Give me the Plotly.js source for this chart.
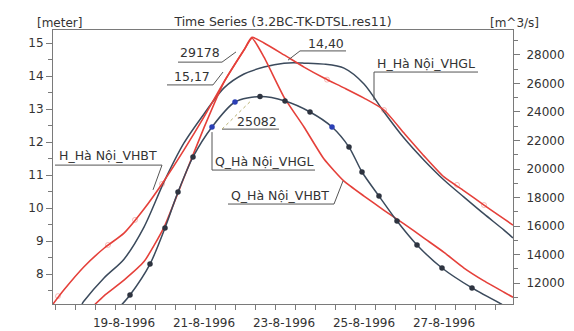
<!DOCTYPE html>
<html>
<head>
<meta charset="utf-8">
<script src="https://cdn.plot.ly/plotly-3.0.1.min.js"></script>
<style>html,body{margin:0;padding:0;background:#fff;}#chart{width:574px;height:331px;}</style>
</head>
<body>
<div id="chart"></div>
<script>
// ---- Data (x = day of August 1996, fractional) ----
const tickDays = [19, 21, 23, 25, 27];
const tickLabels = ["19-8-1996", "21-8-1996", "23-8-1996", "25-8-1996", "27-8-1996"];

// H_Hà Nội_VHBT [meter]
const hbtDay = [17.225,17.5,18,18.5,19,19.5,20,20.5,21,21.5,22,22.2,22.5,23,23.5,24,24.5,25,25.5,26,26.5,27,27.5,28,28.5,28.725];
const hbtH   = [7.09,7.52,8.22,8.78,9.24,9.97,10.82,11.76,12.76,13.82,14.79,15.17,15.0,14.64,14.27,13.94,13.64,13.33,12.97,12.27,11.58,10.94,10.52,10.09,9.67,9.48];
const hbtMarkDay = [17.35,18.6,19.275,19.95,24.075,25.5,27.325,28.0];
const hbtMarkH   = [7.33,8.88,9.64,10.73,13.89,12.97,10.70,10.09];

// H_Hà Nội_VHGL [meter]
const hglDay = [17.95,18,18.5,19,19.5,20,20.5,21,21.5,22,22.5,23,23.25,23.5,24,24.5,25,25.5,26,26.5,27,27.5,28,28.5,28.725];
const hglH   = [7.09,7.18,7.88,8.45,9.42,10.79,11.97,12.85,13.64,14.06,14.27,14.39,14.40,14.39,14.36,14.24,13.76,12.91,12.12,11.45,10.85,10.33,9.82,9.33,9.09];

// Q_Hà Nội_VHBT [m^3/s]
const qbtDay = [18.275,18.5,19,19.5,20,20.5,21,21.5,22,22.2,22.5,23,23.5,24,24.5,25,25.5,26,26.5,27,27.5,28,28.5,28.725];
const qbtQ   = [10500,11100,12200,13500,15900,19400,22900,26100,28350,29178,27850,25050,22950,20700,19150,18100,17100,16150,15150,14150,13050,12150,11350,11000];

// Q_Hà Nội_VHGL [m^3/s]
const qglDay = [18.95,19.15,19.65,20.025,20.35,20.725,21.2,21.775,22.4,23.025,23.65,24.2,24.625,24.95,25.375,25.825,26.325,26.95,27.7,28.45];
const qglQ   = [10500,11160,13330,15860,18380,20840,22950,24700,25082,24770,24000,22950,21540,19790,18100,16350,14670,13050,11650,10500];
const qglMarkDay = [19.15,19.65,20.025,20.35,20.725,22.4,23.025,23.65,24.625,24.95,25.375,25.825,26.325,26.95,27.7];
const qglMarkQ   = [11160,13330,15860,18380,20840,25082,24770,24000,21540,19790,18100,16350,14670,13050,11650];
const qglBlueDay = [21.2,21.775,24.2];
const qglBlueQ   = [22950,24700,22950];

// ---- Styling ----
const RED = '#e5403a';
const DARK = '#3b4a5c';
const FONT = 'DejaVu Sans, sans-serif';
const TXT = '#333333';
const AX = '#7a7a7a';

const traces = [
  {x: hglDay, y: hglH, yaxis: 'y', mode: 'lines', line: {color: DARK, width: 1.5, shape: 'spline', smoothing: 0.8}, name: 'H_Hà Nội_VHGL'},
  {x: hbtDay, y: hbtH, yaxis: 'y', mode: 'lines', line: {color: RED, width: 1.6, shape: 'spline', smoothing: 0.6}, name: 'H_Hà Nội_VHBT'},
  {x: hbtMarkDay, y: hbtMarkH, yaxis: 'y', mode: 'markers', marker: {symbol: 'circle-open', size: 5, color: 'rgba(229,64,58,0.35)', line: {width: 1}}},
  {x: qbtDay, y: qbtQ, yaxis: 'y2', mode: 'lines', line: {color: RED, width: 1.6, shape: 'spline', smoothing: 0.5}, name: 'Q_Hà Nội_VHBT'},
  {x: qglDay, y: qglQ, yaxis: 'y2', mode: 'lines', line: {color: DARK, width: 1.5, shape: 'spline', smoothing: 0.8}, name: 'Q_Hà Nội_VHGL'},
  {x: qglMarkDay, y: qglMarkQ, yaxis: 'y2', mode: 'markers', marker: {symbol: 'circle', size: 5.5, color: '#2e3440'}},
  {x: qglBlueDay, y: qglBlueQ, yaxis: 'y2', mode: 'markers', marker: {symbol: 'circle', size: 5.5, color: '#2b3fb5'}}
];

function lbl(text, x, y) {
  return {text: text, x: x, y: y, xref: 'x', yref: 'y', showarrow: false,
          font: {family: FONT, size: 12.5, color: TXT}, xanchor: 'center', yanchor: 'middle'};
}
function seg(x0, y0, x1, y1, color, dash) {
  return {type: 'line', xref: 'x', yref: 'y', x0: x0, y0: y0, x1: x1, y1: y1,
          line: {color: color || '#555', width: 1, dash: dash || 'solid'}};
}

const annotations = [
  {text: '[meter]', xref: 'paper', yref: 'paper', x: -0.04, y: 1.06, showarrow: false, font: {family: FONT, size: 12, color: TXT}},
  {text: '[m^3/s]', xref: 'paper', yref: 'paper', x: 1.06, y: 1.06, showarrow: false, font: {family: FONT, size: 12, color: TXT}},
  lbl('29178', 20.9, 14.70),
  lbl('15,17', 20.7, 13.97),
  lbl('14,40', 24.05, 14.97),
  lbl('25082', 22.33, 12.61),
  lbl('H_Hà Nội_VHBT', 18.6, 11.58),
  lbl('Q_Hà Nội_VHGL', 22.5, 11.40),
  lbl('Q_Hà Nội_VHBT', 22.9, 10.37),
  lbl('H_Hà Nội_VHGL', 26.55, 14.37)
];

const shapes = [
  seg(20.35, 14.42, 21.45, 14.42), seg(21.45, 14.42, 21.8, 14.73),
  seg(20.075, 13.73, 21.225, 13.73), seg(21.225, 13.73, 21.475, 14.12),
  seg(23.4, 14.76, 24.55, 14.76), seg(23.4, 14.76, 23.1, 14.48),
  seg(21.45, 12.39, 22.875, 12.39), seg(21.45, 12.39, 22.15, 13.22, '#b8b070', 'dot'),
  seg(17.275, 11.30, 19.95, 11.30), seg(19.95, 11.30, 19.725, 10.55),
  seg(21.2, 11.15, 23.775, 11.15), seg(21.2, 11.15, 21.2, 12.30),
  seg(21.6, 10.12, 24.25, 10.12), seg(24.25, 10.12, 24.475, 10.82),
  seg(25.25, 14.12, 27.85, 14.12), seg(25.25, 14.12, 25.25, 13.27)
];

const layout = {
  width: 574, height: 331,
  margin: {l: 53, r: 61, t: 30, b: 27, pad: 0},
  paper_bgcolor: '#ffffff', plot_bgcolor: '#ffffff',
  showlegend: false,
  font: {family: FONT, size: 12, color: TXT},
  title: {text: 'Time Series (3.2BC-TK-DTSL.res11)', font: {family: FONT, size: 12.5, color: TXT},
          xref: 'container', yref: 'container', x: 0.493, y: 0.935, xanchor: 'center', yanchor: 'middle'},
  xaxis: {
    range: [17.225, 28.725], tickmode: 'array', tickvals: tickDays, ticktext: tickLabels,
    ticks: 'outside', ticklen: 0, ticklabelstandoff: 8, showgrid: false, zeroline: false,
    showline: true, mirror: true, linecolor: AX, linewidth: 1,
    tickfont: {family: FONT, size: 12, color: TXT},
    minor: {ticks: 'outside', tick0: 17.775, dtick: 0.5, ticklen: 5, tickcolor: AX, showgrid: false}
  },
  yaxis: {
    range: [7.091, 15.394], tickmode: 'linear', tick0: 0, dtick: 1,
    ticks: 'outside', ticklen: 6, tickcolor: AX, showgrid: false, zeroline: false,
    showline: true, linecolor: AX, linewidth: 1,
    tickfont: {family: FONT, size: 12, color: TXT},
    minor: {ticks: 'outside', dtick: 0.5, ticklen: 4, tickcolor: AX, showgrid: false}
  },
  yaxis2: {
    range: [10526, 29754], overlaying: 'y', side: 'right', anchor: 'x',
    tickmode: 'linear', tick0: 0, dtick: 2000, tickformat: 'd',
    ticks: 'outside', ticklen: 6, tickcolor: AX, showgrid: false, zeroline: false,
    showline: true, linecolor: AX, linewidth: 1, ticklabelstandoff: 4,
    tickfont: {family: FONT, size: 12, color: TXT},
    minor: {ticks: 'outside', dtick: 1000, ticklen: 4, tickcolor: AX, showgrid: false}
  },
  annotations: annotations,
  shapes: shapes
};

Plotly.newPlot('chart', traces, layout, {staticPlot: true, displayModeBar: false});
</script>
</body>
</html>
